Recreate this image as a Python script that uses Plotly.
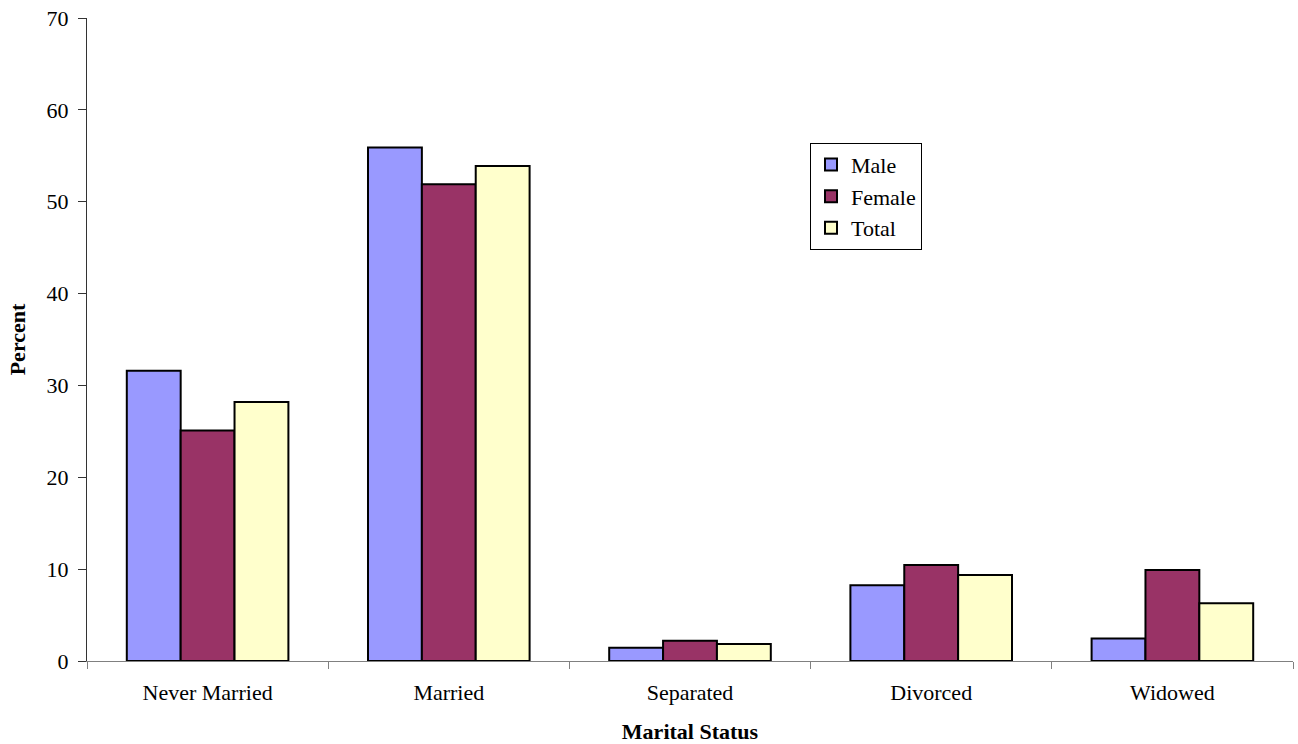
import plotly.graph_objects as go

categories = ["Never Married", "Married", "Separated", "Divorced", "Widowed"]
male = [31.6, 55.9, 1.45, 8.25, 2.45]
female = [25.1, 51.9, 2.2, 10.45, 9.9]
total = [28.2, 53.9, 1.85, 9.35, 6.3]

series = [("Male", male, "#9999FF"), ("Female", female, "#993366"), ("Total", total, "#FFFFCC")]

fig = go.Figure()
for name, vals, col in series:
    fig.add_trace(go.Bar(x=categories, y=vals, name=name,
                         marker=dict(color=col, line=dict(color="black", width=2))))

font = "Liberation Serif, Times New Roman, serif"
fig.update_layout(
    width=1298, height=744,
    margin=dict(l=87, r=5, t=18, b=83, autoexpand=False),
    plot_bgcolor="white", paper_bgcolor="white",
    barmode="group", bargap=0.33, bargroupgap=0,
    font=dict(family=font, size=22, color="black"),
    legend=dict(x=0.5995, y=0.806, xanchor="left", yanchor="top",
                bordercolor="black", borderwidth=1, font=dict(size=22),
                tracegroupgap=0, itemwidth=30),
    xaxis=dict(title=dict(text="<b>Marital Status</b>", standoff=20, font=dict(size=22)),
               showline=True, linecolor="#808080", linewidth=1,
               ticks="outside", tickson="boundaries", ticklen=7, tickcolor="#808080",
               ticklabelstandoff=12, showgrid=False, automargin=False),
    yaxis=dict(title=dict(text="<b>Percent</b>", standoff=14, font=dict(size=22)),
               range=[0, 70], dtick=10, showline=True, linecolor="#333333", linewidth=1,
               ticks="outside", ticklen=8, tickcolor="#333333", showgrid=False,
               ticklabelstandoff=5, ticklabeloverflow="allow", zeroline=False,
               automargin=False),
)
fig.write_html("out.html", config={"displayModeBar": False},
               post_script="document.body.style.margin='0';document.body.style.overflow='hidden';")
